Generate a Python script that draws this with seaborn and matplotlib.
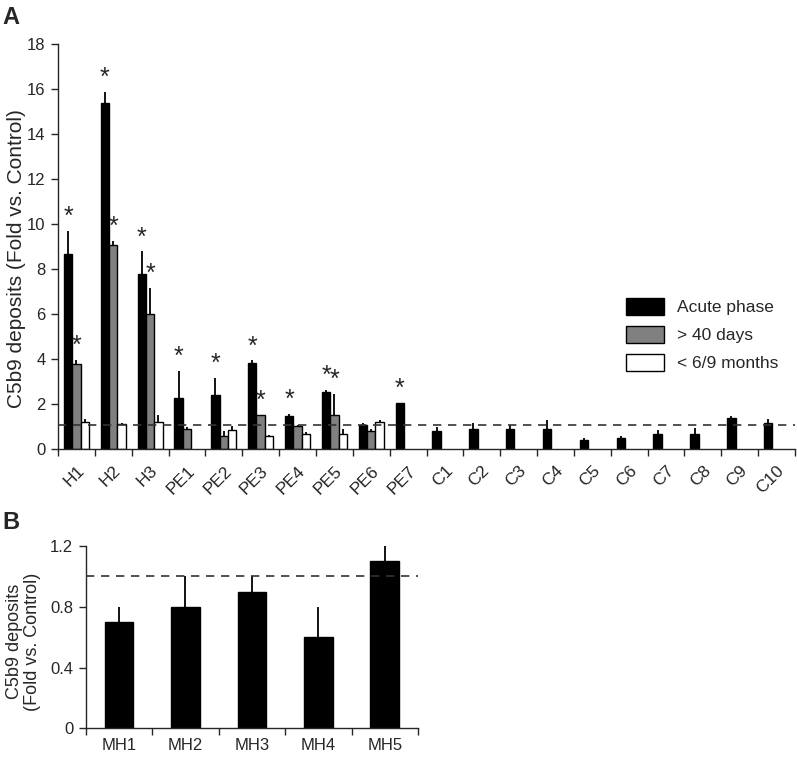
import numpy as np
import pandas as pd
import matplotlib
matplotlib.use("Agg")
import matplotlib.pyplot as plt
import seaborn as sns

# ---------------- data ----------------
categories = ["H1", "H2", "H3", "PE1", "PE2", "PE3", "PE4", "PE5", "PE6", "PE7",
              "C1", "C2", "C3", "C4", "C5", "C6", "C7", "C8", "C9", "C10"]
series_names = ["Acute phase", "> 40 days", "< 6/9 months"]

acute = [8.7, 15.4, 7.8, 2.3, 2.4, 3.85, 1.5, 2.55, 1.1, 2.07,
         0.81, 0.92, 0.92, 0.92, 0.41, 0.52, 0.68, 0.68, 1.38, 1.17]
acute_err = [1.0, 0.5, 1.0, 1.2, 0.78, 0.1, 0.08, 0.1, 0.06, 0.0,
             0.17, 0.27, 0.16, 0.38, 0.08, 0.06, 0.18, 0.27, 0.1, 0.18]

days40 = [3.8, 9.1, 6.0, 0.92, 0.6, 1.51, 1.02, 1.51, 0.81]
days40_err = [0.19, 0.17, 1.19, 0.07, 0.2, 0.03, 0.05, 0.96, 0.11]

months = [1.21, 1.11, 1.2, np.nan, 0.86, 0.59, 0.70, 0.68, 1.21]
months_err = [0.12, 0.08, 0.31, np.nan, 0.19, 0.06, 0.07, 0.22, 0.08]

stars_A = [("H1", 0), ("H1", 1), ("H2", 0), ("H2", 1), ("H3", 0), ("H3", 1),
           ("PE1", 0), ("PE2", 0), ("PE3", 0), ("PE3", 1), ("PE4", 0),
           ("PE5", 0), ("PE5", 1), ("PE7", 0)]
ref_line_A = 1.1

mh_categories = ["MH1", "MH2", "MH3", "MH4", "MH5"]
mh_values = [0.7, 0.8, 0.9, 0.6, 1.1]
mh_err = [0.1, 0.2, 0.1, 0.2, 0.1]
ref_line_B = 1.0

# ---------------- build tables ----------------
rows = []
all_vals = [acute, days40, months]
all_errs = [acute_err, days40_err, months_err]
for s, (vals, errs) in enumerate(zip(all_vals, all_errs)):
    for i, v in enumerate(vals):
        if v is not None and not np.isnan(v):
            rows.append({"cat": categories[i], "series": series_names[s],
                         "value": v, "err": errs[i]})
dfA = pd.DataFrame(rows)
dfB = pd.DataFrame({"cat": mh_categories, "value": mh_values, "err": mh_err})

# ---------------- style ----------------
sns.set_style("ticks")
plt.rcParams["font.family"] = ["Liberation Sans", "DejaVu Sans"]
plt.rcParams["axes.linewidth"] = 1.0

palette = {"Acute phase": "#000000", "> 40 days": "#808080", "< 6/9 months": "#ffffff"}

fig = plt.figure(figsize=(7.97, 7.57), dpi=100)
W, H = 797, 757
axA = fig.add_axes([58 / W, 1 - 449.3 / H, 737 / W, (449.3 - 44.3) / H])
axB = fig.add_axes([85.7 / W, 1 - 728.3 / H, (418 - 85.7) / W, (728.3 - 546) / H])

# ---------------- panel A ----------------
sns.barplot(data=dfA, x="cat", y="value", hue="series", order=categories,
            hue_order=series_names, palette=palette, errorbar=None,
            width=0.68, edgecolor="black", linewidth=1.0, saturation=1,
            ax=axA)

lookup = {(r.cat, r.series): r for r in dfA.itertuples()}
bar_tops = {}
for s, cont in enumerate(axA.containers):
    for patch in cont:
        h = patch.get_height()
        if h is None or np.isnan(h):
            continue
        xc = patch.get_x() + patch.get_width() / 2
        ci = int(round(xc))
        cat = categories[ci]
        r = lookup.get((cat, series_names[s]))
        if r is None:
            continue
        top = r.value + (r.err if r.err > 0 else 0)
        bar_tops[(cat, s)] = (xc, top)
        if r.err > 0:
            axA.plot([xc, xc], [r.value, r.value + r.err], color="black",
                     lw=1.3, solid_capstyle="butt", zorder=3)

for cat, s in stars_A:
    xc, top = bar_tops[(cat, s)]
    axA.text(xc, top + 0.08, "*", ha="center", va="bottom", fontsize=18)

axA.axhline(ref_line_A, color="#333333", lw=1.2, ls=(0, (5, 4)), zorder=4)

axA.set_ylim(0, 18)
axA.set_xlim(-0.5, len(categories) - 0.5)
axA.set_yticks(np.arange(0, 19, 2))
axA.set_yticklabels([str(v) for v in range(0, 19, 2)], fontsize=12)
axA.set_xticks(np.arange(len(categories)))
axA.set_xticklabels(categories, rotation=45, ha="right", rotation_mode="anchor",
                    fontsize=12.5)
axA.set_xticks(np.arange(-0.5, len(categories)), minor=True)
axA.tick_params(axis="x", which="major", length=0, pad=10)
axA.tick_params(axis="x", which="minor", length=5, width=1)
axA.tick_params(axis="y", length=5, width=1, pad=4)
axA.set_xlabel("")
axA.set_ylabel("C5b9 deposits (Fold vs. Control)", fontsize=15)
axA.yaxis.set_label_coords(-0.043, 0.472)
sns.despine(ax=axA)

leg = axA.legend(loc="upper left", bbox_to_anchor=(0.771, 0.373), frameon=False,
                 fontsize=12.5, handlelength=2.2, handleheight=1.1,
                 handletextpad=0.7, labelspacing=0.62, borderpad=0, borderaxespad=0)
for hnd in leg.legend_handles:
    hnd.set_edgecolor("black")
    hnd.set_linewidth(1.0)

# ---------------- panel B ----------------
sns.barplot(data=dfB, x="cat", y="value", order=mh_categories, color="black",
            errorbar=None, width=0.43, edgecolor="black", saturation=1, ax=axB)
for patch, r in zip(axB.patches, dfB.itertuples()):
    xc = patch.get_x() + patch.get_width() / 2
    axB.plot([xc, xc], [r.value, r.value + r.err], color="black", lw=1.3,
             solid_capstyle="butt", zorder=3)
axB.axhline(ref_line_B, color="#333333", lw=1.2, ls=(0, (5, 4)), zorder=4)
axB.set_ylim(0, 1.2)
axB.set_xlim(-0.5, len(mh_categories) - 0.5)
axB.set_yticks([0, 0.4, 0.8, 1.2])
axB.set_yticklabels(["0", "0.4", "0.8", "1.2"], fontsize=12)
axB.set_xticks(np.arange(len(mh_categories)))
axB.set_xticklabels(mh_categories, fontsize=12)
axB.set_xticks(np.arange(-0.5, len(mh_categories)), minor=True)
axB.tick_params(axis="x", which="major", length=0, pad=7)
axB.tick_params(axis="x", which="minor", length=5, width=1)
axB.tick_params(axis="y", length=5, width=1, pad=4)
axB.set_xlabel("")
axB.set_ylabel("C5b9 deposits\n(Fold vs. Control)", fontsize=13, linespacing=1.05)
axB.yaxis.set_label_coords(-0.135, 0.476)
sns.despine(ax=axB)

fig.text(2 / W, 1 - 6 / H, "A", fontsize=17, fontweight="bold", va="top", ha="left")
fig.text(2 / W, 1 - 511 / H, "B", fontsize=17, fontweight="bold", va="top", ha="left")

fig.savefig("out.png", dpi=100)
